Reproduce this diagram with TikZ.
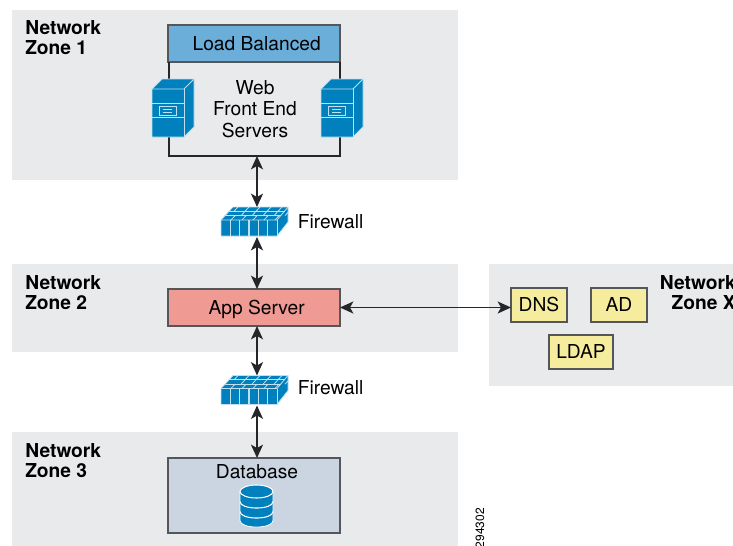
\documentclass[tikz,border=0pt]{standalone}
\usepackage{fontspec}
\setmainfont{TeX Gyre Heros}
\usetikzlibrary{arrows.meta, positioning}
\definecolor{zonegray}{HTML}{E9EAEC}
\definecolor{lbblue}{HTML}{6BAED9}
\definecolor{appred}{HTML}{F09A94}
\definecolor{dbgray}{HTML}{CBD5E2}
\definecolor{svcyellow}{HTML}{F6EC9E}
\definecolor{iconblue}{HTML}{0080BC}
\definecolor{iconline}{HTML}{BFE0F0}
\definecolor{edgegray}{HTML}{55565A}
\definecolor{linkdark}{HTML}{26262A}
\tikzset{
  zone/.style={fill=zonegray},
  zonelabel/.style={font=\bfseries\fontsize{14.4}{15}\selectfont, align=left, anchor=north west, inner sep=0pt},
  tierbox/.style={draw=edgegray, line width=1pt, outer sep=0pt, minimum width=129pt, minimum height=27.75pt, inner sep=0pt, text height=10.4pt, text depth=0.6pt, font=\fontsize{14.4}{16}\selectfont},
  svcbox/.style={draw=edgegray, fill=svcyellow, line width=1pt, outer sep=0pt, minimum height=25.5pt, inner sep=0pt, text height=10.4pt, text depth=0.6pt, font=\fontsize{14.4}{16}\selectfont},
  plain/.style={inner sep=0pt, align=center, font=\fontsize{14.4}{16}\selectfont},
  iconspot/.style={inner sep=0pt, outer sep=0pt, minimum width=52pt, minimum height=22.5pt},
  link/.style={draw=linkdark, line width=1.4pt, {Stealth[length=10pt,width=9pt,inset=2.5pt]}-{Stealth[length=10pt,width=9pt,inset=2.5pt]}},
  wire/.style={draw=linkdark, line width=1.4pt},
  srvicon/.pic={
    \draw[fill=iconblue, draw=iconline, line width=0.6pt, line join=round]
      (-21,-19) -- (-11,-29) -- (21,-29) -- (21,19) -- (11,29) -- (-21,29) -- cycle;
    \draw[iconline, line width=0.6pt] (-21,-19) -- (11,-19) -- (21,-29);
    \draw[iconline, line width=0.6pt] (11,-19) -- (11,29);
    \draw[iconline, line width=0.6pt] (-21,-5) -- (11,-5);
    \draw[iconline, line width=0.6pt] (-21,9) -- (11,9);
    \draw[iconline, line width=0.6pt] (-14,-2) rectangle (3,7);
    \draw[iconline, line width=0.5pt] (-10,1) -- (-1,1) (-10,4) -- (-1,4);
  },
  wallicon/.pic={
    \draw[fill=iconblue, draw=iconline, line width=0.6pt, line join=round]
      (-36,-2) -- (-24,-15) -- (31,-15) -- (31,0) -- (20,14) -- (-36,14) -- cycle;
    \draw[iconline, line width=0.6pt] (-36,-2) -- (20,-2) -- (31,-15);
    \draw[iconline, line width=0.6pt] (20,-2) -- (20,14);
    \foreach \k in {1,...,5}
      \draw[iconline, line width=0.8pt] ({-36+\k*9.33},-2) -- ({-36+\k*9.33},14);
    \draw[iconline, line width=0.6pt] (-32,-6.3) -- (24,-6.3) (-28,-10.7) -- (27.5,-10.7);
    \foreach \k in {0,...,4} {
      \draw[iconline, line width=0.6pt] ({-26+\k*11},-2) -- ({-22+\k*11},-6.3);
      \draw[iconline, line width=0.6pt] ({-16+\k*11},-6.3) -- ({-12+\k*11},-10.7);
      \draw[iconline, line width=0.6pt] ({-23+\k*11},-10.7) -- ({-19+\k*11},-15);
    }
  },
  dbicon/.pic={
    \draw[fill=iconblue, draw=white, line width=0.6pt]
      (-16.5,-14.5) -- (-16.5,14.5) .. controls (-16.5,23.2) and (16.5,23.2) .. (16.5,14.5) -- (16.5,-14.5) -- cycle;
    \draw[fill=iconblue, draw=white, line width=0.8pt] (0,-14.5) ellipse [x radius=16.5, y radius=6.5];
    \foreach \k in {-4.5,5.5}
      \draw[white, line width=0.8pt] (-16.5,\k) .. controls (-16.5,\k+8.7) and (16.5,\k+8.7) .. (16.5,\k);
  },
}
\begin{document}
\begin{tikzpicture}[x=0.75pt, y=-0.75pt]
    \useasboundingbox (0,0) rectangle (733,546);
    \fill[zone] (12,10) rectangle (458,180);
    \fill[zone] (12,264) rectangle (458,352);
    \fill[zone] (12,432) rectangle (458,546);
    \fill[zone] (489,264) rectangle (733,386);

    \node[zonelabel] (zoneone) at (25,20) {Network\\Zone 1};
    \node[zonelabel] (zonetwo) at (25,275) {Network\\Zone 2};
    \node[zonelabel] (zonethree) at (25,443) {Network\\Zone 3};
    \node[zonelabel, align=right, anchor=north east] (zonex) at (736,275) {Network\\Zone X};

    \node[tierbox, fill=lbblue] (lb) at (254,43.5) {\hspace{4pt}Load Balanced};
    \node[tierbox, fill=appred] (app) at (254,307.5) {\hspace{4pt}App Server};
    \node[tierbox, fill=dbgray, minimum height=56.25pt] (db) at (254,495.5) {};
    \node[plain] (dblabel) at (257,472) {Database};
    \node[plain] (web) at (255,109) {Web\\Front End\\Servers};

    \node[svcbox, minimum width=42pt] (dns) at (539,305) {DNS};
    \node[svcbox, minimum width=42pt] (ad) at (619,305) {AD};
    \node[svcbox, minimum width=48pt] (ldap) at (581,352) {LDAP};

    \coordinate (webjoin) at (257,156);
    \coordinate (webleft) at (169,156);
    \coordinate (webright) at (340,156);
    \node[iconspot] (fwone) at (257,222) {};
    \node[iconspot] (fwtwo) at (257,390.5) {};
    \node[plain, right=4.5pt of fwone] (fwonelabel) {Firewall};
    \node[plain, right=4.5pt of fwtwo, yshift=1.9pt] (fwtwolabel) {Firewall};

    % frame round the web servers
    \draw[wire] (lb.south -| webleft) -- (webleft) -- (webright) -- (lb.south -| webright);

    \node[inner sep=0pt, minimum width=31.5pt, minimum height=43.5pt] (srvleft) at (173,108) {};
    \node[inner sep=0pt, minimum width=31.5pt, minimum height=43.5pt] (srvright) at (342,108) {};
    \pic at (srvleft.center) {srvicon};
    \pic at (srvright.center) {srvicon};
    \pic at (fwone.center) {wallicon};
    \pic at (fwtwo.center) {wallicon};
    \node[inner sep=0pt, minimum width=25pt, minimum height=32pt] (dbstack) at (256.5,506) {};
    \pic at (dbstack.center) {dbicon};

    \draw[link] (webjoin) -- (fwone);
    \draw[link] (fwone) -- (fwone |- app.north);
    \draw[link] (fwtwo |- app.south) -- (fwtwo);
    \draw[link] (fwtwo) -- (fwtwo |- db.north);
    \draw[link] (app.east) -- (app.east -| dns.west);

    \node[rotate=90, anchor=east, inner sep=0pt, font=\fontsize{9}{10}\selectfont] (figid) at (480,508) {294302};
\end{tikzpicture}
\end{document}
